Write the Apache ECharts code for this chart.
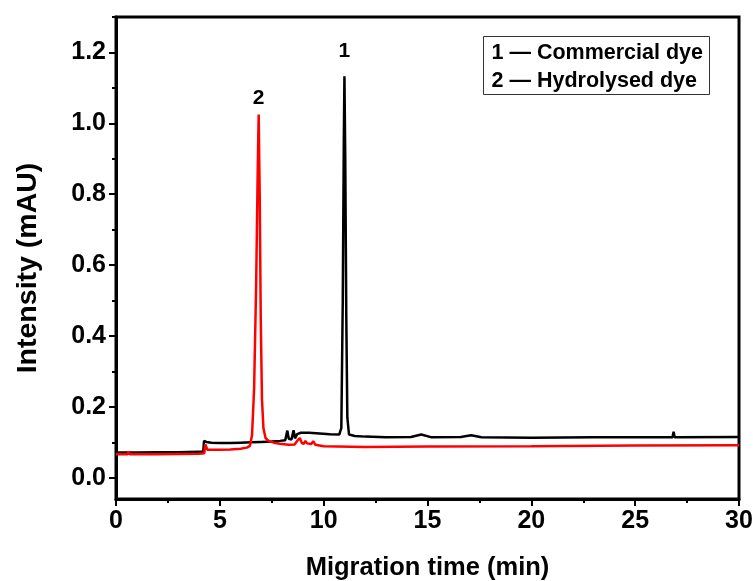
<!DOCTYPE html>
<html>
<head>
<meta charset="utf-8">
<script src="https://cdn.jsdelivr.net/npm/echarts@6/dist/echarts.min.js"></script>
<style>
  html, body { margin: 0; padding: 0; background: #fff; }
  #chart { width: 753px; height: 581px; }
</style>
</head>
<body>
<div id="chart"></div>
<script>
// Electropherogram traces: migration time (min) vs intensity (mAU)
var commercialTime = [0, 1, 2, 3, 4, 4.2, 4.24, 4.35, 4.6, 5, 5.5, 6, 6.5, 7, 7.5, 7.9, 8.15, 8.25, 8.32, 8.45, 8.55, 8.62, 8.72, 8.9, 9.3, 9.8, 10.3, 10.75, 10.85, 10.92, 10.97, 11.0, 11.04, 11.09, 11.14, 11.22, 11.5, 12, 13, 14.2, 14.7, 15.2, 16.6, 17.1, 17.6, 20, 23, 26.8, 26.85, 26.9, 30];
var commercialIntensity = [0.071, 0.071, 0.072, 0.072, 0.073, 0.073, 0.104, 0.101, 0.099, 0.098, 0.098, 0.099, 0.100, 0.101, 0.102, 0.104, 0.106, 0.133, 0.110, 0.108, 0.134, 0.111, 0.123, 0.127, 0.127, 0.125, 0.123, 0.122, 0.140, 0.50, 0.95, 1.133, 0.90, 0.45, 0.17, 0.122, 0.118, 0.116, 0.114, 0.115, 0.122, 0.114, 0.115, 0.120, 0.114, 0.113, 0.114, 0.114, 0.130, 0.114, 0.115];

var hydrolysedTime = [0, 0.3, 0.55, 0.6, 0.66, 1, 2, 3, 4, 4.25, 4.3, 4.4, 5, 5.5, 6, 6.3, 6.45, 6.55, 6.65, 6.75, 6.82, 6.87, 6.92, 6.97, 7.03, 7.1, 7.2, 7.35, 7.6, 7.9, 8.3, 8.6, 8.75, 8.85, 8.95, 9.05, 9.12, 9.2, 9.4, 9.5, 9.6, 10, 12, 15, 20, 25, 30];
var hydrolysedIntensity = [0.066, 0.066, 0.066, 0.074, 0.066, 0.066, 0.066, 0.067, 0.068, 0.069, 0.094, 0.079, 0.079, 0.080, 0.082, 0.085, 0.090, 0.120, 0.250, 0.550, 0.850, 1.025, 0.800, 0.450, 0.220, 0.140, 0.112, 0.104, 0.099, 0.096, 0.093, 0.094, 0.106, 0.112, 0.098, 0.096, 0.104, 0.097, 0.095, 0.103, 0.093, 0.089, 0.087, 0.088, 0.089, 0.091, 0.092];

var yMajorTicks = [0.0, 0.2, 0.4, 0.6, 0.8, 1.0, 1.2];
var yMinorTicks = [0.1, 0.3, 0.5, 0.7, 0.9, 1.1, 1.3];
var peakNames = ['1', '2'];
var legendLines = ['1 \u2014 Commercial dye', '2 \u2014 Hydrolysed dye'];

function pairs(xs, ys) {
  return xs.map(function (x, i) { return [x, ys[i]]; });
}
function apex(xs, ys) {
  var k = 0;
  for (var i = 1; i < ys.length; i++) if (ys[i] > ys[k]) k = i;
  return [xs[k], ys[k]];
}

var FONT = '"Liberation Sans", Arial, sans-serif';
var chart = echarts.init(document.getElementById('chart'), null, { renderer: 'canvas' });

function peakMark(xs, ys, name, gap) {
  return {
    symbol: 'circle',
    symbolSize: 0,
    data: [{ coord: apex(xs, ys) }],
    label: {
      show: true, position: 'top', distance: gap, formatter: name,
      color: '#000', fontFamily: FONT, fontWeight: 'bold', fontSize: 21
    }
  };
}

chart.setOption({
  animation: false,
  backgroundColor: '#fff',
  grid: {
    left: 116, right: 14, top: 17, bottom: 82,
    outerBoundsMode: 'none', containLabel: false,
    show: true, borderColor: '#000', borderWidth: 3, backgroundColor: 'transparent'
  },
  xAxis: {
    type: 'value', min: 0, max: 30, interval: 5,
    name: 'Migration time (min)', nameLocation: 'middle', nameGap: 56,
    nameTextStyle: { fontFamily: FONT, fontWeight: 'bold', fontSize: 25.5, color: '#000' },
    axisLine: { show: true, onZero: false, lineStyle: { color: '#000', width: 3 } },
    axisTick: { show: true, inside: false, length: 7, lineStyle: { color: '#000', width: 2 } },
    minorTick: { show: true, splitNumber: 2, length: 4, lineStyle: { color: '#000', width: 2 } },
    splitLine: { show: false },
    axisLabel: { fontFamily: FONT, fontWeight: 'bold', fontSize: 25, color: '#000', margin: 10 }
  },
  yAxis: [{
    type: 'value', min: -0.06, max: 1.3,
    axisLine: { show: true, onZero: false, lineStyle: { color: '#000', width: 3 } },
    axisTick: { show: true, inside: false, length: 7, customValues: yMajorTicks, lineStyle: { color: '#000', width: 2 } },
    splitLine: { show: false },
    axisLabel: {
      customValues: yMajorTicks, margin: 10,
      fontFamily: FONT, fontWeight: 'bold', fontSize: 25, color: '#000',
      formatter: function (v) { return v.toFixed(1); }
    }
  }, {
    type: 'value', min: -0.06, max: 1.3, position: 'left',
    axisLine: { show: false, onZero: false },
    axisTick: { show: true, inside: false, length: 4, customValues: yMinorTicks, lineStyle: { color: '#000', width: 2 } },
    axisLabel: { show: false },
    splitLine: { show: false }
  }],
  series: [{
    name: 'Commercial dye', type: 'line', yAxisIndex: 0,
    data: pairs(commercialTime, commercialIntensity),
    showSymbol: false, smooth: false,
    lineStyle: { color: '#000', width: 2.5 },
    itemStyle: { color: '#000' },
    markPoint: peakMark(commercialTime, commercialIntensity, peakNames[0], 14)
  }, {
    name: 'Hydrolysed dye', type: 'line', yAxisIndex: 0,
    data: pairs(hydrolysedTime, hydrolysedIntensity),
    showSymbol: false, smooth: false,
    lineStyle: { color: '#ff0000', width: 2.5 },
    itemStyle: { color: '#ff0000' },
    markPoint: peakMark(hydrolysedTime, hydrolysedIntensity, peakNames[1], 6)
  }],
  graphic: [{
    // y-axis title, rotated to read bottom-to-top
    type: 'text', x: 28, y: 268, rotation: Math.PI / 2,
    style: {
      text: 'Intensity (mAU)', fill: '#000', font: 'bold 28.5px ' + FONT,
      textAlign: 'center', textVerticalAlign: 'middle'
    }
  }, {
    type: 'group', left: 483, top: 36,
    children: [{
      type: 'rect', shape: { x: 0, y: 0, width: 226, height: 58 },
      style: { fill: '#fff', stroke: '#333', lineWidth: 1 }
    }, {
      type: 'text', x: 8, y: 17,
      style: { text: legendLines[0], fill: '#000', font: 'bold 21.5px ' + FONT, textVerticalAlign: 'middle' }
    }, {
      type: 'text', x: 8, y: 45,
      style: { text: legendLines[1], fill: '#000', font: 'bold 21.5px ' + FONT, textVerticalAlign: 'middle' }
    }]
  }]
});
</script>
</body>
</html>
